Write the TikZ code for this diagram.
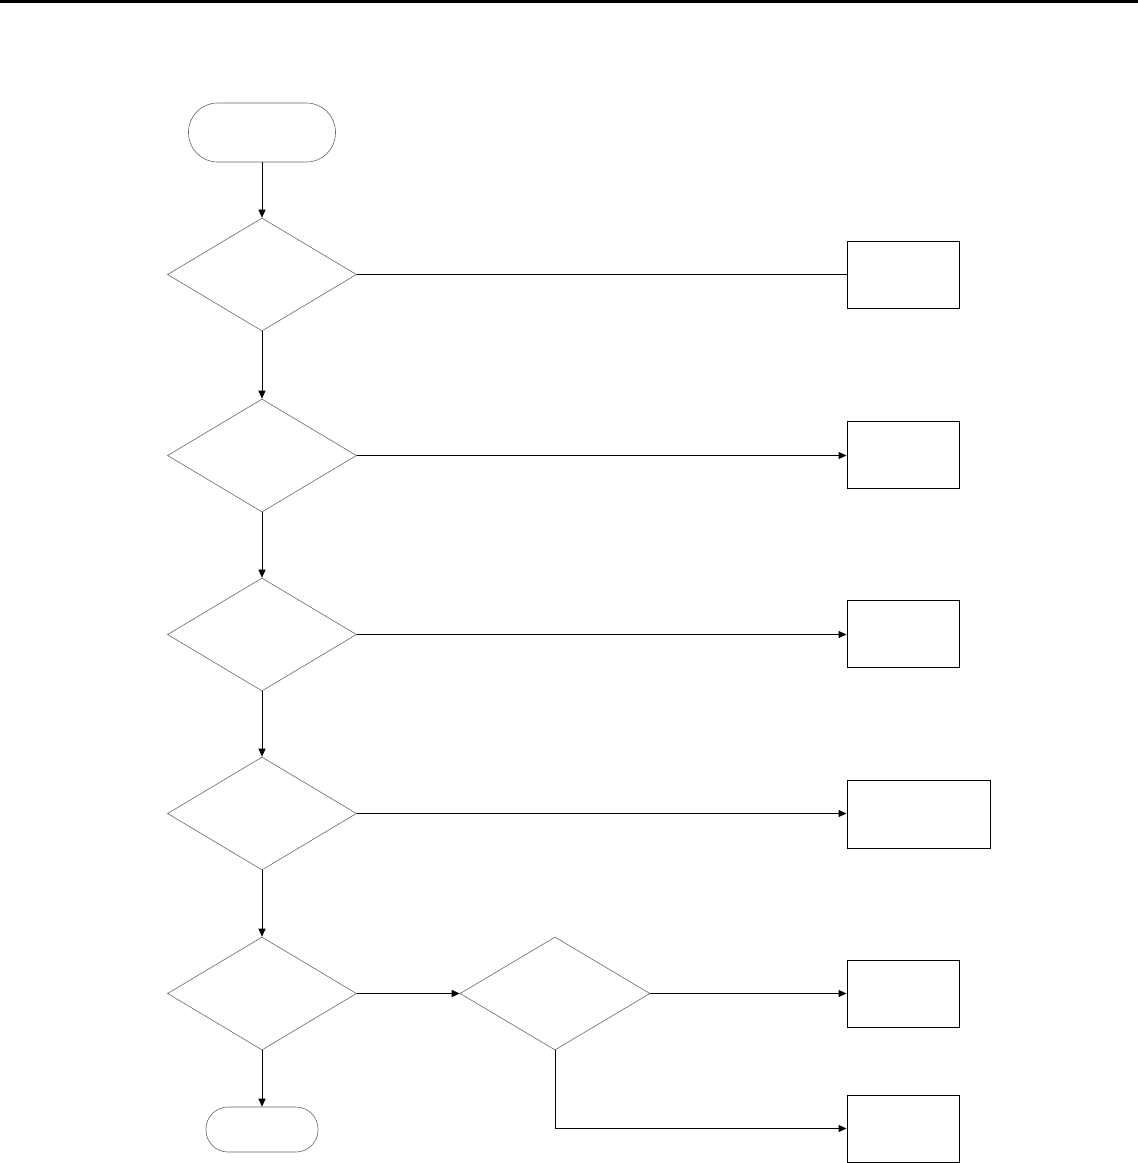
\documentclass[tikz,border=0pt]{standalone}
\usetikzlibrary{shapes.geometric,arrows.meta}
\begin{document}
\begin{tikzpicture}[x=1pt,y=-1pt,
  dec/.style={diamond,draw=black!60,line width=0.6pt,inner sep=0pt,minimum width=189pt,minimum height=113pt},
  dec2/.style={diamond,draw=black!60,line width=0.6pt,inner sep=0pt,minimum width=190pt,minimum height=113pt},
  box/.style={rectangle,draw=black,line width=1pt,inner sep=0pt,minimum width=112pt,minimum height=67pt},
  wbox/.style={rectangle,draw=black,line width=1pt,inner sep=0pt,minimum width=143pt,minimum height=68pt},
  term/.style={rectangle,draw=black!60,line width=0.6pt,inner sep=0pt},
  conn/.style={draw=black,line width=1pt},
  arr/.style={conn,-{Triangle[length=8pt,width=7pt]}}]
\useasboundingbox (0,0) rectangle (1138,1163);
\fill[black] (0,0) rectangle (1138,3);
% start and end terminals
\node[term,minimum width=147pt,minimum height=59pt,rounded corners=29pt] (start) at (262,132.5) {};
\node[term,minimum width=112pt,minimum height=45pt,rounded corners=22pt] (stop) at (262,1129.5) {};
% decisions
\node[dec] (d1) at (262,274.5) {};
\node[dec] (d2) at (262,455.5) {};
\node[dec] (d3) at (262,634.5) {};
\node[dec] (d4) at (262,813.5) {};
\node[dec] (d5) at (262,993.5) {};
\node[dec2] (d6) at (555,993.5) {};
% boxes
\node[box] (b1) at (903,274.5) {};
\node[box] (b2) at (903,454.5) {};
\node[box] (b3) at (903,634) {};
\node[wbox] (b4) at (918.5,814) {};
\node[box] (b5) at (903,993.5) {};
\node[box] (b6) at (903,1128.5) {};
% connectors
\draw[arr] (start.south) -- (d1.north);
\draw[arr] (d1.south) -- (d2.north);
\draw[arr] (d2.south) -- (d3.north);
\draw[arr] (d3.south) -- (d4.north);
\draw[arr] (d4.south) -- (d5.north);
\draw[arr] (d5.south) -- (stop.north);
\draw[conn] (d1.east) -- (b1.west);
\draw[arr] (d2.east) -- (d2.east -| b2.west);
\draw[arr] (d3.east) -- (d3.east -| b3.west);
\draw[arr] (d4.east) -- (d4.east -| b4.west);
\draw[arr] (d5.east) -- (d6.west);
\draw[arr] (d6.east) -- (b5.west);
\draw[arr] (d6.south) |- (b6.west);
\end{tikzpicture}
\end{document}
